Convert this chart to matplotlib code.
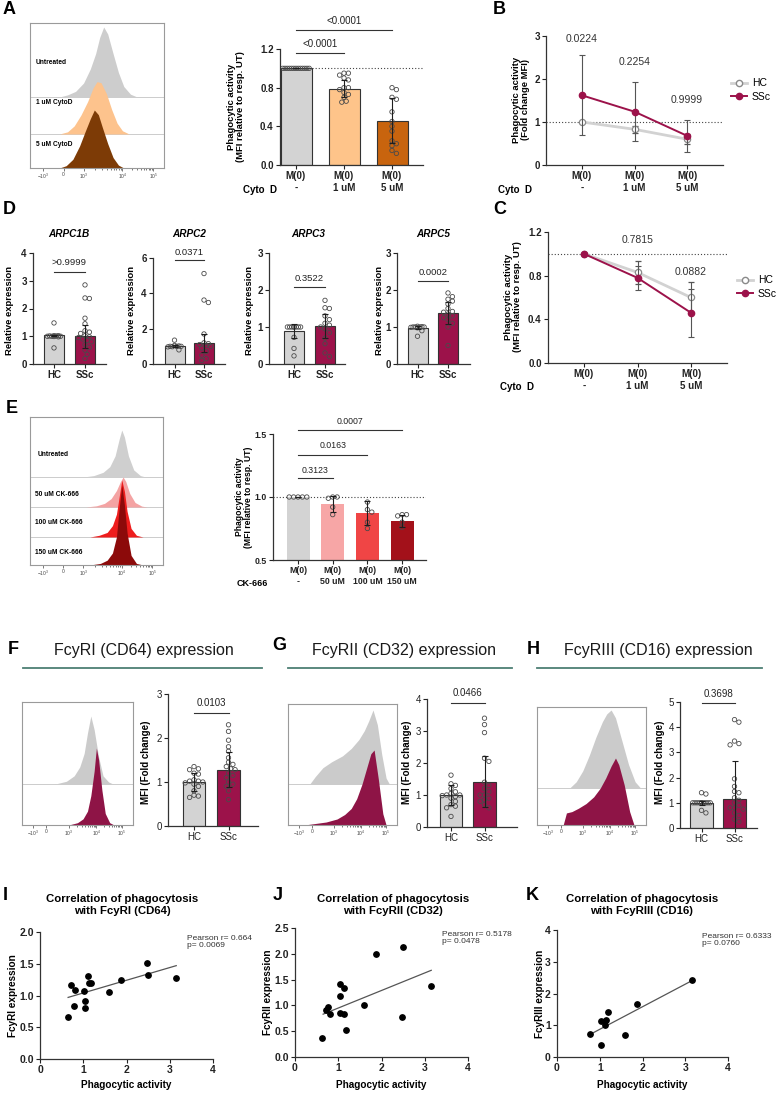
import numpy as np
import matplotlib
matplotlib.use("Agg")
import matplotlib.pyplot as plt
from matplotlib.lines import Line2D
from matplotlib.ticker import FormatStrFormatter

# ---------------- data ----------------
# A  cytochalasin D, bar + points
a_groups = ["M(0)\n-", "M(0)\n1 uM", "M(0)\n5 uM"]
a_means = [1.0, 0.79, 0.46]
a_sd = [0.0, 0.09, 0.23]
a_points = [[1.0] * 13,
            [0.95, 0.95, 0.93, 0.90, 0.88, 0.80, 0.80, 0.78, 0.75, 0.73, 0.70, 0.66, 0.65],
            [0.80, 0.78, 0.70, 0.68, 0.55, 0.45, 0.40, 0.35, 0.25, 0.22, 0.20, 0.15, 0.12]]

# B  fold change MFI, HC vs SSc
b_hc = [1.0, 0.83, 0.60]
b_hc_sd = [0.0, 0.08, 0.12]
b_ssc = [1.62, 1.24, 0.68]
b_ssc_sd = [0.93, 0.69, 0.37]
b_pvals = ["0.0224", "0.2254", "0.9999"]

# C  MFI relative to untreated
c_hc = [1.0, 0.83, 0.60]
c_hc_sd = [0.0, 0.105, 0.145]
c_ssc = [1.0, 0.78, 0.46]
c_ssc_sd = [0.0, 0.11, 0.22]
c_pvals = ["0.7815", "0.0882"]

# D  ARPC gene expression
d_genes = ["ARPC1B", "ARPC2", "ARPC3", "ARPC5"]
d_pvals = [">0.9999", "0.0371", "0.3522", "0.0002"]
d_means = [[1.03, 1.0], [1.0, 1.17], [0.9, 1.02], [0.98, 1.38]]
d_sd = [[0.03, 0.42], [0.06, 0.5], [0.19, 0.33], [0.04, 0.3]]
d_hc_pts = [[1.48, 1.02, 1.02, 1.01, 1.01, 1.0, 1.0, 1.0, 0.99, 0.98, 0.58],
            [1.35, 1.05, 1.02, 1.0, 1.0, 1.0, 0.98, 0.97, 0.8],
            [1.0, 1.0, 1.0, 1.0, 1.0, 1.0, 1.0, 1.0, 0.72, 0.42, 0.22],
            [1.02, 1.01, 1.0, 1.0, 1.0, 1.0, 0.99, 0.98, 0.9, 0.75]]
d_ssc_pts = [[2.85, 2.38, 2.36, 1.65, 1.45, 1.2, 1.15, 1.1, 1.02, 0.98, 0.95, 0.9, 0.85, 0.8, 0.7, 0.6, 0.5, 0.35, 0.2],
             [5.12, 3.62, 3.48, 1.7, 1.2, 1.15, 1.1, 1.05, 1.0, 0.9, 0.7, 0.5, 0.3, 0.2],
             [1.72, 1.52, 1.5, 1.3, 1.2, 1.1, 1.05, 1.0, 0.95, 0.85, 0.7, 0.55, 0.3, 0.2],
             [1.92, 1.82, 1.75, 1.7, 1.62, 1.5, 1.42, 1.4, 1.35, 1.3, 1.25, 1.2, 1.1, 1.0, 0.5]]

# E  CK-666
e_groups = ["M(0)\n-", "M(0)\n50 uM", "M(0)\n100 uM", "M(0)\n150 uM"]
e_means = [1.0, 0.945, 0.87, 0.81]
e_sd = [0.0, 0.065, 0.095, 0.05]
e_points = [[1.0] * 5,
            [1.0, 1.0, 0.99, 0.92, 0.86],
            [0.96, 0.90, 0.88, 0.80, 0.75],
            [0.86, 0.86, 0.85, 0.80, 0.76]]
e_pvals = ["0.3123", "0.0163", "0.0007"]

# F, G, H  Fc receptor MFI
fgh_titles = ["FcyRI (CD64) expression", "FcyRII (CD32) expression", "FcyRIII (CD16) expression"]
fgh_pvals = ["0.0103", "0.0466", "0.3698"]
fgh_means = [[1.0, 1.28], [1.0, 1.42], [1.0, 1.15]]
fgh_sd = [[0.21, 0.4], [0.31, 0.8], [0.08, 1.5]]
fgh_hc_pts = [[1.35, 1.3, 1.28, 1.2, 1.18, 1.05, 1.02, 1.02, 1.0, 0.98, 0.95, 0.9, 0.8, 0.7, 0.68, 0.65],
              [1.62, 1.35, 1.3, 1.2, 1.1, 1.05, 1.0, 1.0, 0.98, 0.95, 0.9, 0.8, 0.7, 0.65, 0.6, 0.33],
              [1.4, 1.35, 1.0, 1.0, 1.0, 1.0, 1.0, 1.0, 1.0, 1.0, 1.0, 1.0, 0.7, 0.6]]
fgh_ssc_pts = [[2.3, 2.15, 1.95, 1.8, 1.7, 1.55, 1.45, 1.4, 1.35, 1.3, 1.28, 1.2, 1.15, 1.1, 1.0, 0.95, 0.9, 0.8, 0.6],
               [3.4, 3.2, 2.95, 2.15, 2.05, 1.4, 1.3, 1.2, 1.1, 1.0, 1.0, 0.9, 0.85, 0.8, 0.7, 0.6],
               [4.3, 4.2, 3.45, 3.35, 3.3, 1.95, 1.65, 1.45, 1.4, 1.2, 1.1, 1.0, 0.9, 0.8, 0.8, 0.75, 0.6, 0.5, 0.35, 0.25]]

# I, J, K  correlations
i_x = [0.65, 0.72, 0.78, 0.82, 1.02, 1.03, 1.03, 1.12, 1.13, 1.18, 1.6, 1.88, 2.47, 2.5, 3.15]
i_y = [0.66, 1.16, 0.83, 1.09, 1.07, 0.91, 0.81, 1.31, 1.2, 1.2, 1.06, 1.25, 1.51, 1.32, 1.28]
i_fit = ([0.65, 3.15], [0.97, 1.47])
j_x = [0.63, 0.72, 0.77, 0.82, 1.03, 1.04, 1.05, 1.13, 1.13, 1.18, 1.6, 1.88, 2.47, 2.5, 3.15]
j_y = [0.36, 0.92, 0.96, 0.84, 0.86, 1.19, 1.42, 1.33, 0.83, 0.53, 1.0, 1.99, 0.77, 2.14, 1.38]
j_fit = ([0.65, 3.15], [0.83, 1.68])
k_x = [0.78, 1.02, 1.04, 1.13, 1.14, 1.19, 1.6, 1.88, 3.15]
k_y = [0.72, 1.12, 0.38, 1.0, 1.16, 1.41, 0.68, 1.66, 2.44]
k_fit = ([0.8, 3.15], [0.73, 2.4])
corr_stats = ["Pearson r= 0.664\np= 0.0069", "Pearson r= 0.5178\np= 0.0478", "Pearson r= 0.6333\np= 0.0760"]

# flow histogram outlines (x as fraction of the box, height as fraction of peak)
hA_gray = ([0.22, 0.28, 0.34, 0.40, 0.45, 0.49, 0.52, 0.55, 0.58, 0.62, 0.66, 0.70, 0.75, 0.80],
           [0, 0.03, 0.08, 0.2, 0.4, 0.62, 0.85, 1.0, 0.9, 0.62, 0.35, 0.15, 0.04, 0])
hA_1um = ([0.22, 0.28, 0.33, 0.38, 0.43, 0.47, 0.50, 0.53, 0.57, 0.61, 0.65, 0.69, 0.74],
          [0, 0.04, 0.15, 0.35, 0.6, 0.85, 0.97, 0.95, 0.75, 0.45, 0.2, 0.06, 0])
hA_5um = ([0.22, 0.27, 0.32, 0.37, 0.41, 0.45, 0.48, 0.51, 0.54, 0.58, 0.62, 0.66, 0.70],
          [0, 0.04, 0.15, 0.38, 0.62, 0.85, 1.0, 0.92, 0.7, 0.42, 0.18, 0.05, 0])
hE_gray = ([0.40, 0.48, 0.55, 0.60, 0.64, 0.67, 0.69, 0.71, 0.74, 0.78, 0.83, 0.87],
           [0, 0.03, 0.1, 0.22, 0.45, 0.8, 1.0, 0.85, 0.45, 0.15, 0.03, 0])
hE_50 = ([0.42, 0.50, 0.56, 0.61, 0.65, 0.68, 0.70, 0.72, 0.75, 0.79, 0.84, 0.88],
         [0, 0.04, 0.12, 0.28, 0.55, 0.85, 1.0, 0.85, 0.45, 0.15, 0.03, 0])
hE_100 = ([0.45, 0.52, 0.58, 0.62, 0.65, 0.67, 0.69, 0.71, 0.73, 0.76, 0.80, 0.85],
          [0, 0.03, 0.08, 0.2, 0.4, 0.7, 1.0, 0.8, 0.45, 0.15, 0.03, 0])
hE_150 = ([0.45, 0.53, 0.58, 0.62, 0.65, 0.67, 0.69, 0.71, 0.73, 0.76, 0.80, 0.85],
          [0, 0.02, 0.06, 0.15, 0.35, 0.7, 1.0, 0.75, 0.4, 0.12, 0.02, 0])
hF_gray = ([0.30, 0.40, 0.47, 0.52, 0.56, 0.59, 0.62, 0.65, 0.69, 0.73, 0.78, 0.82],
           [0, 0.04, 0.12, 0.25, 0.45, 0.75, 1.0, 0.8, 0.4, 0.12, 0.03, 0])
hF_ssc = ([0.42, 0.50, 0.55, 0.59, 0.62, 0.65, 0.67, 0.69, 0.72, 0.75, 0.79, 0.83],
          [0, 0.03, 0.08, 0.18, 0.38, 0.7, 1.0, 0.85, 0.45, 0.15, 0.03, 0])
hG_gray = ([0.20, 0.25, 0.32, 0.40, 0.50, 0.58, 0.65, 0.70, 0.74, 0.78, 0.82, 0.86, 0.90, 0.93],
           [0, 0.1, 0.22, 0.3, 0.38, 0.48, 0.6, 0.72, 0.85, 1.0, 0.8, 0.4, 0.08, 0])
hG_ssc = ([0.15, 0.25, 0.35, 0.45, 0.52, 0.58, 0.63, 0.68, 0.72, 0.76, 0.79, 0.83, 0.87, 0.90],
          [0, 0.02, 0.04, 0.08, 0.14, 0.22, 0.35, 0.55, 0.75, 0.95, 1.0, 0.6, 0.15, 0])
hH_gray = ([0.30, 0.36, 0.42, 0.48, 0.54, 0.60, 0.64, 0.68, 0.72, 0.78, 0.84, 0.90, 0.95],
           [0, 0.08, 0.22, 0.42, 0.65, 0.85, 0.95, 1.0, 0.9, 0.6, 0.3, 0.08, 0])
hH_ssc = ([0.24, 0.27, 0.32, 0.38, 0.45, 0.52, 0.58, 0.63, 0.68, 0.72, 0.75, 0.80, 0.85, 0.89],
          [0, 0.18, 0.2, 0.25, 0.32, 0.42, 0.55, 0.7, 0.88, 1.0, 0.9, 0.6, 0.2, 0])
flow_ticks = [r"$-10^3$", "0", r"$10^3$", r"$10^4$", r"$10^5$"]

# ---------------- style ----------------
GRAY = "#d3d3d3"
MAROON = "#9c124a"
W, H = 782, 1094
plt.rcParams["font.family"] = ["Liberation Sans", "DejaVu Sans"]
plt.rcParams["font.weight"] = "bold"
plt.rcParams["font.size"] = 7
plt.rcParams["mathtext.default"] = "regular"

fig = plt.figure(figsize=(W / 100, H / 100), dpi=100)


def px_axes(x0, y0, x1, y1):
    return fig.add_axes([x0 / W, 1 - y1 / H, (x1 - x0) / W, (y1 - y0) / H])


def ftext(x, y, s, **kw):
    kw.setdefault("ha", "center")
    kw.setdefault("va", "center")
    fig.text(x / W, 1 - y / H, s, **kw)


def style(ax, fs=7, weight="bold"):
    for s in ("top", "right"):
        ax.spines[s].set_visible(False)
    for s in ("left", "bottom"):
        ax.spines[s].set_color("#333333")
        ax.spines[s].set_linewidth(0.9)
    ax.tick_params(length=3, width=0.8, colors="#222222", pad=1.5, labelsize=fs)
    for t in ax.get_xticklabels() + ax.get_yticklabels():
        t.set_fontweight(weight)


def swarm(vals, ypx, half, d=4.4):
    vals = np.asarray(vals, float)
    offs = np.zeros(len(vals))
    placed = []
    cands = [0.0]
    k = 1
    while k * d * 0.5 <= half:
        cands += [k * d * 0.5, -k * d * 0.5]
        k += 1
    for i in np.argsort(-vals, kind="stable"):
        y = vals[i] * ypx
        best, best_gap = 0.0, -1
        for c in cands:
            gap = min([np.hypot(c - px, y - py) for px, py in placed] + [99])
            if gap >= d:
                best = c
                break
            if gap > best_gap:
                best, best_gap = c, gap
        placed.append((best, y))
        offs[i] = best
    return offs


def bar_panel(box, centers, bw, groups, means, sds, points, colors, ylim, yticks, fmt,
              edge="#333333", fs=7, tick_weight="bold"):
    x0, y0, x1, y1 = box
    ax = px_axes(*box)
    sp = centers[1] - centers[0]
    ax.set_xlim(-(centers[0] - x0) / sp, (x1 - centers[0]) / sp)
    ax.set_ylim(*ylim)
    xs = np.arange(len(groups))
    ax.bar(xs, means, width=bw / sp, color=colors, edgecolor=edge, linewidth=0.8, zorder=1)
    ypx = (y1 - y0) / (ylim[1] - ylim[0])
    for i, pts in enumerate(points):
        off = swarm(pts, ypx, bw / 2 - 1.5) / sp
        ax.scatter(xs[i] + off, pts, s=10, facecolors="none", edgecolors="#4a4a4a",
                   linewidths=0.6, zorder=2, clip_on=False)
    ax.errorbar(xs, means, yerr=sds, fmt="none", ecolor="#1e1e1e", elinewidth=0.8,
                capsize=2.5, capthick=0.8, zorder=3)
    ax.set_xticks(xs, groups)
    ax.set_yticks(yticks)
    ax.yaxis.set_major_formatter(FormatStrFormatter(fmt))
    style(ax, fs, tick_weight)
    return ax


def bracket(ax, xa, xb, y, ty, label, fs=6.5):
    ax.plot([xa, xb], [y, y], color="#333333", lw=0.8, clip_on=False)
    ax.text((xa + xb) / 2, ty, label, ha="center", va="center", fontsize=fs,
            fontweight="normal", color="#222222", clip_on=False)


def flow_box(box, layers, seps, tick_x):
    x0, y0, x1, y1 = box
    ax = px_axes(*box)
    ax.set_xlim(0, 1)
    ax.set_ylim(0, y1 - y0)
    for s in seps:
        ax.axhline(s, color="#c4c4c4", lw=0.6, zorder=0)
    for (xs, hs), base, peak, color in layers:
        ax.fill_between(xs, base, base + np.asarray(hs) * peak, color=color, lw=0, zorder=1)
    for s in ax.spines.values():
        s.set_color("#9a9a9a")
        s.set_linewidth(0.8)
    ax.set_yticks([])
    ax.set_xticks(tick_x, flow_ticks)
    minor = []
    for a, b in zip(tick_x[2:4], tick_x[3:5]):
        minor += [a + (b - a) * np.log10(m) for m in range(2, 10)]
    ax.set_xticks(minor, minor=True)
    ax.tick_params(axis="x", which="both", length=2, width=0.5, labelsize=3.5, pad=1,
                   colors="#444444")
    ax.tick_params(axis="x", which="minor", length=1.2)
    for t in ax.get_xticklabels():
        t.set_fontweight("normal")
    return ax


def line_panel(box, centers, groups, hc, hc_sd, ssc, ssc_sd, ylim, yticks, fmt):
    x0, y0, x1, y1 = box
    ax = px_axes(*box)
    sp = centers[1] - centers[0]
    ax.set_xlim(-(centers[0] - x0) / sp, (x1 - centers[0]) / sp)
    ax.set_ylim(*ylim)
    xs = np.arange(len(groups))
    ax.axhline(1.0, ls=(0, (1, 1.8)), color="#444444", lw=0.8, zorder=0)
    ax.errorbar(xs, hc, yerr=hc_sd, color="#d2d2d2", lw=2, ecolor="#555555", elinewidth=0.8,
                capsize=2.5, capthick=0.8, marker="o", mfc="white", mec="#8a8a8a", ms=4.5,
                mew=0.9, zorder=2)
    ax.errorbar(xs, ssc, yerr=ssc_sd, color=MAROON, lw=1.4, ecolor="#555555", elinewidth=0.8,
                capsize=2.5, capthick=0.8, marker="o", mfc=MAROON, mec=MAROON, ms=4.5, zorder=3)
    ax.set_xticks(xs, groups)
    ax.set_yticks(yticks)
    ax.yaxis.set_major_formatter(FormatStrFormatter(fmt))
    style(ax)
    return ax


def legend_hc_ssc(x, y):
    handles = [Line2D([], [], color="#d2d2d2", lw=2, marker="o", mfc="white", mec="#8a8a8a", ms=4.5),
               Line2D([], [], color=MAROON, lw=1.4, marker="o", mfc=MAROON, mec=MAROON, ms=4.5)]
    fig.legend(handles, ["HC", "SSc"], loc="center left", bbox_to_anchor=(x / W, 1 - y / H),
               frameon=False, prop={"size": 7.5, "weight": "normal"}, handlelength=1.5,
               handletextpad=0.5, labelspacing=0.35, borderaxespad=0, borderpad=0)


def corr_panel(box, x, y, fit, ylim, yticks, fmt):
    ax = px_axes(*box)
    ax.set_xlim(0, 4)
    ax.set_ylim(*ylim)
    ax.plot(fit[0], fit[1], color="#555555", lw=0.9, zorder=2)
    ax.scatter(x, y, s=15, color="black", zorder=3, clip_on=False)
    ax.set_xticks([0, 1, 2, 3, 4])
    ax.set_yticks(yticks)
    ax.yaxis.set_major_formatter(FormatStrFormatter(fmt))
    style(ax, 7.5)
    return ax


# ---------------- A ----------------
ftext(3, 10, "A", fontsize=13, ha="left")
flow_box((30, 23, 164, 168),
         [(hA_gray, 71, 70, "#cdcdcd"), (hA_1um, 34, 54, "#fdc38d"), (hA_5um, 0, 58, "#7d3b06")],
         [71, 34], [0.10, 0.25, 0.40, 0.69, 0.92])
for lab, yy in zip(["Untreated", "1 uM CytoD", "5 uM CytoD"], [63, 103, 145]):
    ftext(36, yy, lab, ha="left", fontsize=4.8)

ax = bar_panel((280, 49, 423, 165), [296, 344], 31, a_groups, a_means, a_sd, a_points,
               [GRAY, "#fec48a", "#c8640e"], (0, 1.2), [0, 0.4, 0.8, 1.2], "%.1f")
ax.axhline(1.0, xmin=0.03, ls=(0, (1, 1.8)), color="#444444", lw=0.8, zorder=0)
bracket(ax, 0, 1, 1.16, 1.25, "<0.0001", 7)
bracket(ax, 0, 2, 1.40, 1.49, "<0.0001", 7)
ftext(236, 107, "Phagocytic activity\n(MFI relative to resp. UT)", rotation=90, fontsize=6.8,
      linespacing=1.05)
ftext(243, 190, "Cyto  D", ha="left", fontsize=7)

# ---------------- B ----------------
ftext(493, 10, "B", fontsize=13, ha="left")
ax = line_panel((546, 36, 723, 165), [582, 634.5], a_groups, b_hc, b_hc_sd, b_ssc, b_ssc_sd,
                (0, 3), [0, 1, 2, 3], "%d")
for i, (p, yy) in enumerate(zip(b_pvals, [2.92, 2.40, 1.51])):
    ax.text(i, yy, p, ha="center", va="center", fontsize=7.5, fontweight="normal", color="#333333")
ftext(521, 100, "Phagocytic activity\n(Fold change MFI)", rotation=90, fontsize=6.8,
      linespacing=1.05)
ftext(498, 190, "Cyto  D", ha="left", fontsize=7)
legend_hc_ssc(731, 90)

# ---------------- C ----------------
ftext(493, 209, "C", fontsize=13, ha="left")
ax = line_panel((548, 232, 727, 363), [584, 637.5], a_groups, c_hc, c_hc_sd, c_ssc, c_ssc_sd,
                (0, 1.2), [0, 0.4, 0.8, 1.2], "%.1f")
for i, (p, yy) in enumerate(zip(c_pvals, [1.13, 0.835])):
    ax.text(i + 1, yy, p, ha="center", va="center", fontsize=7.5, fontweight="normal", color="#333333")
ftext(513, 297, "Phagocytic activity\n(MFI relative to resp. UT)", rotation=90, fontsize=6.8,
      linespacing=1.05)
ftext(500, 387, "Cyto  D", ha="left", fontsize=7)
legend_hc_ssc(737, 287)

# ---------------- D ----------------
ftext(3, 209, "D", fontsize=13, ha="left")
d_boxes = [(33, 253, 106, 364), (153, 258, 225, 364), (269, 253, 345, 364), (397, 253, 470, 364)]
d_centers = [[54, 85], [174.5, 204], [294, 325], [417.5, 448]]
d_ylims = [(0, 4), (0, 6), (0, 3), (0, 3)]
d_yticks = [[0, 1, 2, 3, 4], [0, 2, 4, 6], [0, 1, 2, 3], [0, 1, 2, 3]]
d_brk = [(3.32, 3.64), (5.88, 6.33), (2.08, 2.30), (2.24, 2.46)]
d_title_x = [69, 189, 308, 433]
d_ylab_x = [10, 132, 250, 379]
for g in range(4):
    ax = bar_panel(d_boxes[g], d_centers[g], 20, ["HC", "SSc"], d_means[g], d_sd[g],
                   [d_hc_pts[g], d_ssc_pts[g]], [GRAY, MAROON], d_ylims[g], d_yticks[g], "%d")
    bracket(ax, 0, 1, d_brk[g][0], d_brk[g][1], d_pvals[g], 6.8)
    ftext(d_title_x[g], 234, d_genes[g], fontstyle="italic", fontsize=7.2)
    ftext(d_ylab_x[g], 310, "Relative expression", rotation=90, fontsize=6.8)

# ---------------- E ----------------
ftext(6, 408, "E", fontsize=13, ha="left")
flow_box((30, 417, 163, 565),
         [(hE_gray, 88, 47, "#cfcfcf"), (hE_50, 58, 30, "#f4a3a3"), (hE_100, 28, 57, "#ee1d1d"),
          (hE_150, 0, 80, "#8c0a0a")],
         [88, 58, 28], [0.10, 0.25, 0.40, 0.69, 0.92])
for lab, yy, xx in zip(["Untreated", "50 uM CK-666", "100 uM CK-666", "150 uM CK-666"],
                       [455, 494, 523, 552], [38, 35, 35, 35]):
    ftext(xx, yy, lab, ha="left", fontsize=4.8)

ax = bar_panel((273, 434, 426, 560), [298, 332.7], 23, e_groups, e_means, e_sd, e_points,
               [GRAY, "#f7a6a6", "#f04545", "#a3111a"], (0.5, 1.5), [0.5, 1.0, 1.5], "%.1f",
               edge="none", fs=6.3)
ax.axhline(1.0, ls=(0, (1, 1.8)), color="#444444", lw=0.8, zorder=0)
bracket(ax, 0, 1, 1.15, 1.21, e_pvals[0], 6.3)
bracket(ax, 0, 2, 1.33, 1.41, e_pvals[1], 6.3)
bracket(ax, 0, 3, 1.53, 1.60, e_pvals[2], 6.3)
ftext(244, 497, "Phagocytic activity\n(MFI relative to resp. UT)", rotation=90, fontsize=6.2,
      linespacing=1.05)
ftext(237, 583, "CK-666", ha="left", fontsize=6.5)

# ---------------- F, G, H ----------------
fgh_letters = [("F", 8, 650), ("G", 272, 646), ("H", 527, 650)]
fgh_title_x = [144, 404, 658]
fgh_line = [(23, 262), (288, 512), (537, 762)]
fgh_flow = [((22, 702, 133, 825), hF_gray, hF_ssc, 41, 68, 77, [0.10, 0.22, 0.42, 0.67, 0.9]),
            ((288, 704, 397, 825), hG_gray, hG_ssc, 41, 74, 75, [0.10, 0.22, 0.42, 0.67, 0.9]),
            ((537, 707, 646, 825), hH_gray, hH_ssc, 37, 78, 67, [0.10, 0.22, 0.42, 0.67, 0.9])]
fgh_boxes = [(168, 694, 258, 826), (427, 699, 517, 827), (680, 702, 757, 828)]
fgh_centers = [[194, 228.5], [451, 484.5], [701.5, 734.5]]
fgh_ylims = [(0, 3), (0, 4), (0, 5)]
fgh_brk = [(2.57, 2.80), (3.88, 4.19), (4.96, 5.32)]
fgh_ylab_x = [146, 407, 660]
for g in range(3):
    let, lx, ly = fgh_letters[g]
    ftext(lx, ly, let, fontsize=13, ha="left")
    ftext(fgh_title_x[g], 650, fgh_titles[g], fontsize=11.5, fontweight="normal", color="#1a1a1a")
    fig.add_artist(Line2D([fgh_line[g][0] / W, fgh_line[g][1] / W], [1 - 668 / H] * 2,
                          color="#4d7f74", lw=1.3))
    box, hg, hs, sep, pg, ps, tx = fgh_flow[g]
    flow_box(box, [(hg, sep, pg, "#cbcbcb"), (hs, 0, ps, "#8e1446")], [sep], tx)
    ax = bar_panel(fgh_boxes[g], fgh_centers[g], 22.5, ["HC", "SSc"], fgh_means[g], fgh_sd[g],
                   [fgh_hc_pts[g], fgh_ssc_pts[g]], [GRAY, MAROON], fgh_ylims[g],
                   list(range(fgh_ylims[g][1] + 1)), "%d", fs=7, tick_weight="normal")
    bracket(ax, 0, 1, fgh_brk[g][0], fgh_brk[g][1], fgh_pvals[g], 7)
    ftext(fgh_ylab_x[g], 762, "MFI (Fold change)", rotation=90, fontsize=7)

# ---------------- I, J, K ----------------
ijk = [("I", 3, i_x, i_y, i_fit, (40, 932, 213, 1059), (0, 2), [0, 0.5, 1.0, 1.5, 2.0], "%.1f",
        "FcyRI (CD64)", "FcyRI expression", 13, 122, 187),
       ("J", 273, j_x, j_y, j_fit, (295, 928, 468, 1057), (0, 2.5), [0, 0.5, 1.0, 1.5, 2.0, 2.5], "%.1f",
        "FcyRII (CD32)", "FcyRII expression", 268, 393, 442),
       ("K", 526, k_x, k_y, k_fit, (557, 930, 728, 1057), (0, 4), [0, 1, 2, 3, 4], "%d",
        "FcyRIII (CD16)", "FcyRIII expression", 540, 642, 702)]
for n, (let, lx, x, y, fit, box, yl, yt, fmt, rec, ylab, ylx, tx, px) in enumerate(ijk):
    ftext(lx, 895, let, fontsize=13, ha="left")
    corr_panel(box, x, y, fit, yl, yt, fmt)
    ftext(tx, 905, "Correlation of phagocytosis\nwith " + rec, fontsize=8.2, linespacing=1.15)
    ftext((box[0] + box[2]) / 2, 1085, "Phagocytic activity", fontsize=7.2)
    ftext(ylx, (box[1] + box[3]) / 2, ylab, rotation=90, fontsize=7.2)
    ftext(px, box[1] + 10, corr_stats[n], ha="left", fontsize=6, fontweight="normal",
          color="#333333", linespacing=1.1)

fig.savefig("out.png", dpi=100)
